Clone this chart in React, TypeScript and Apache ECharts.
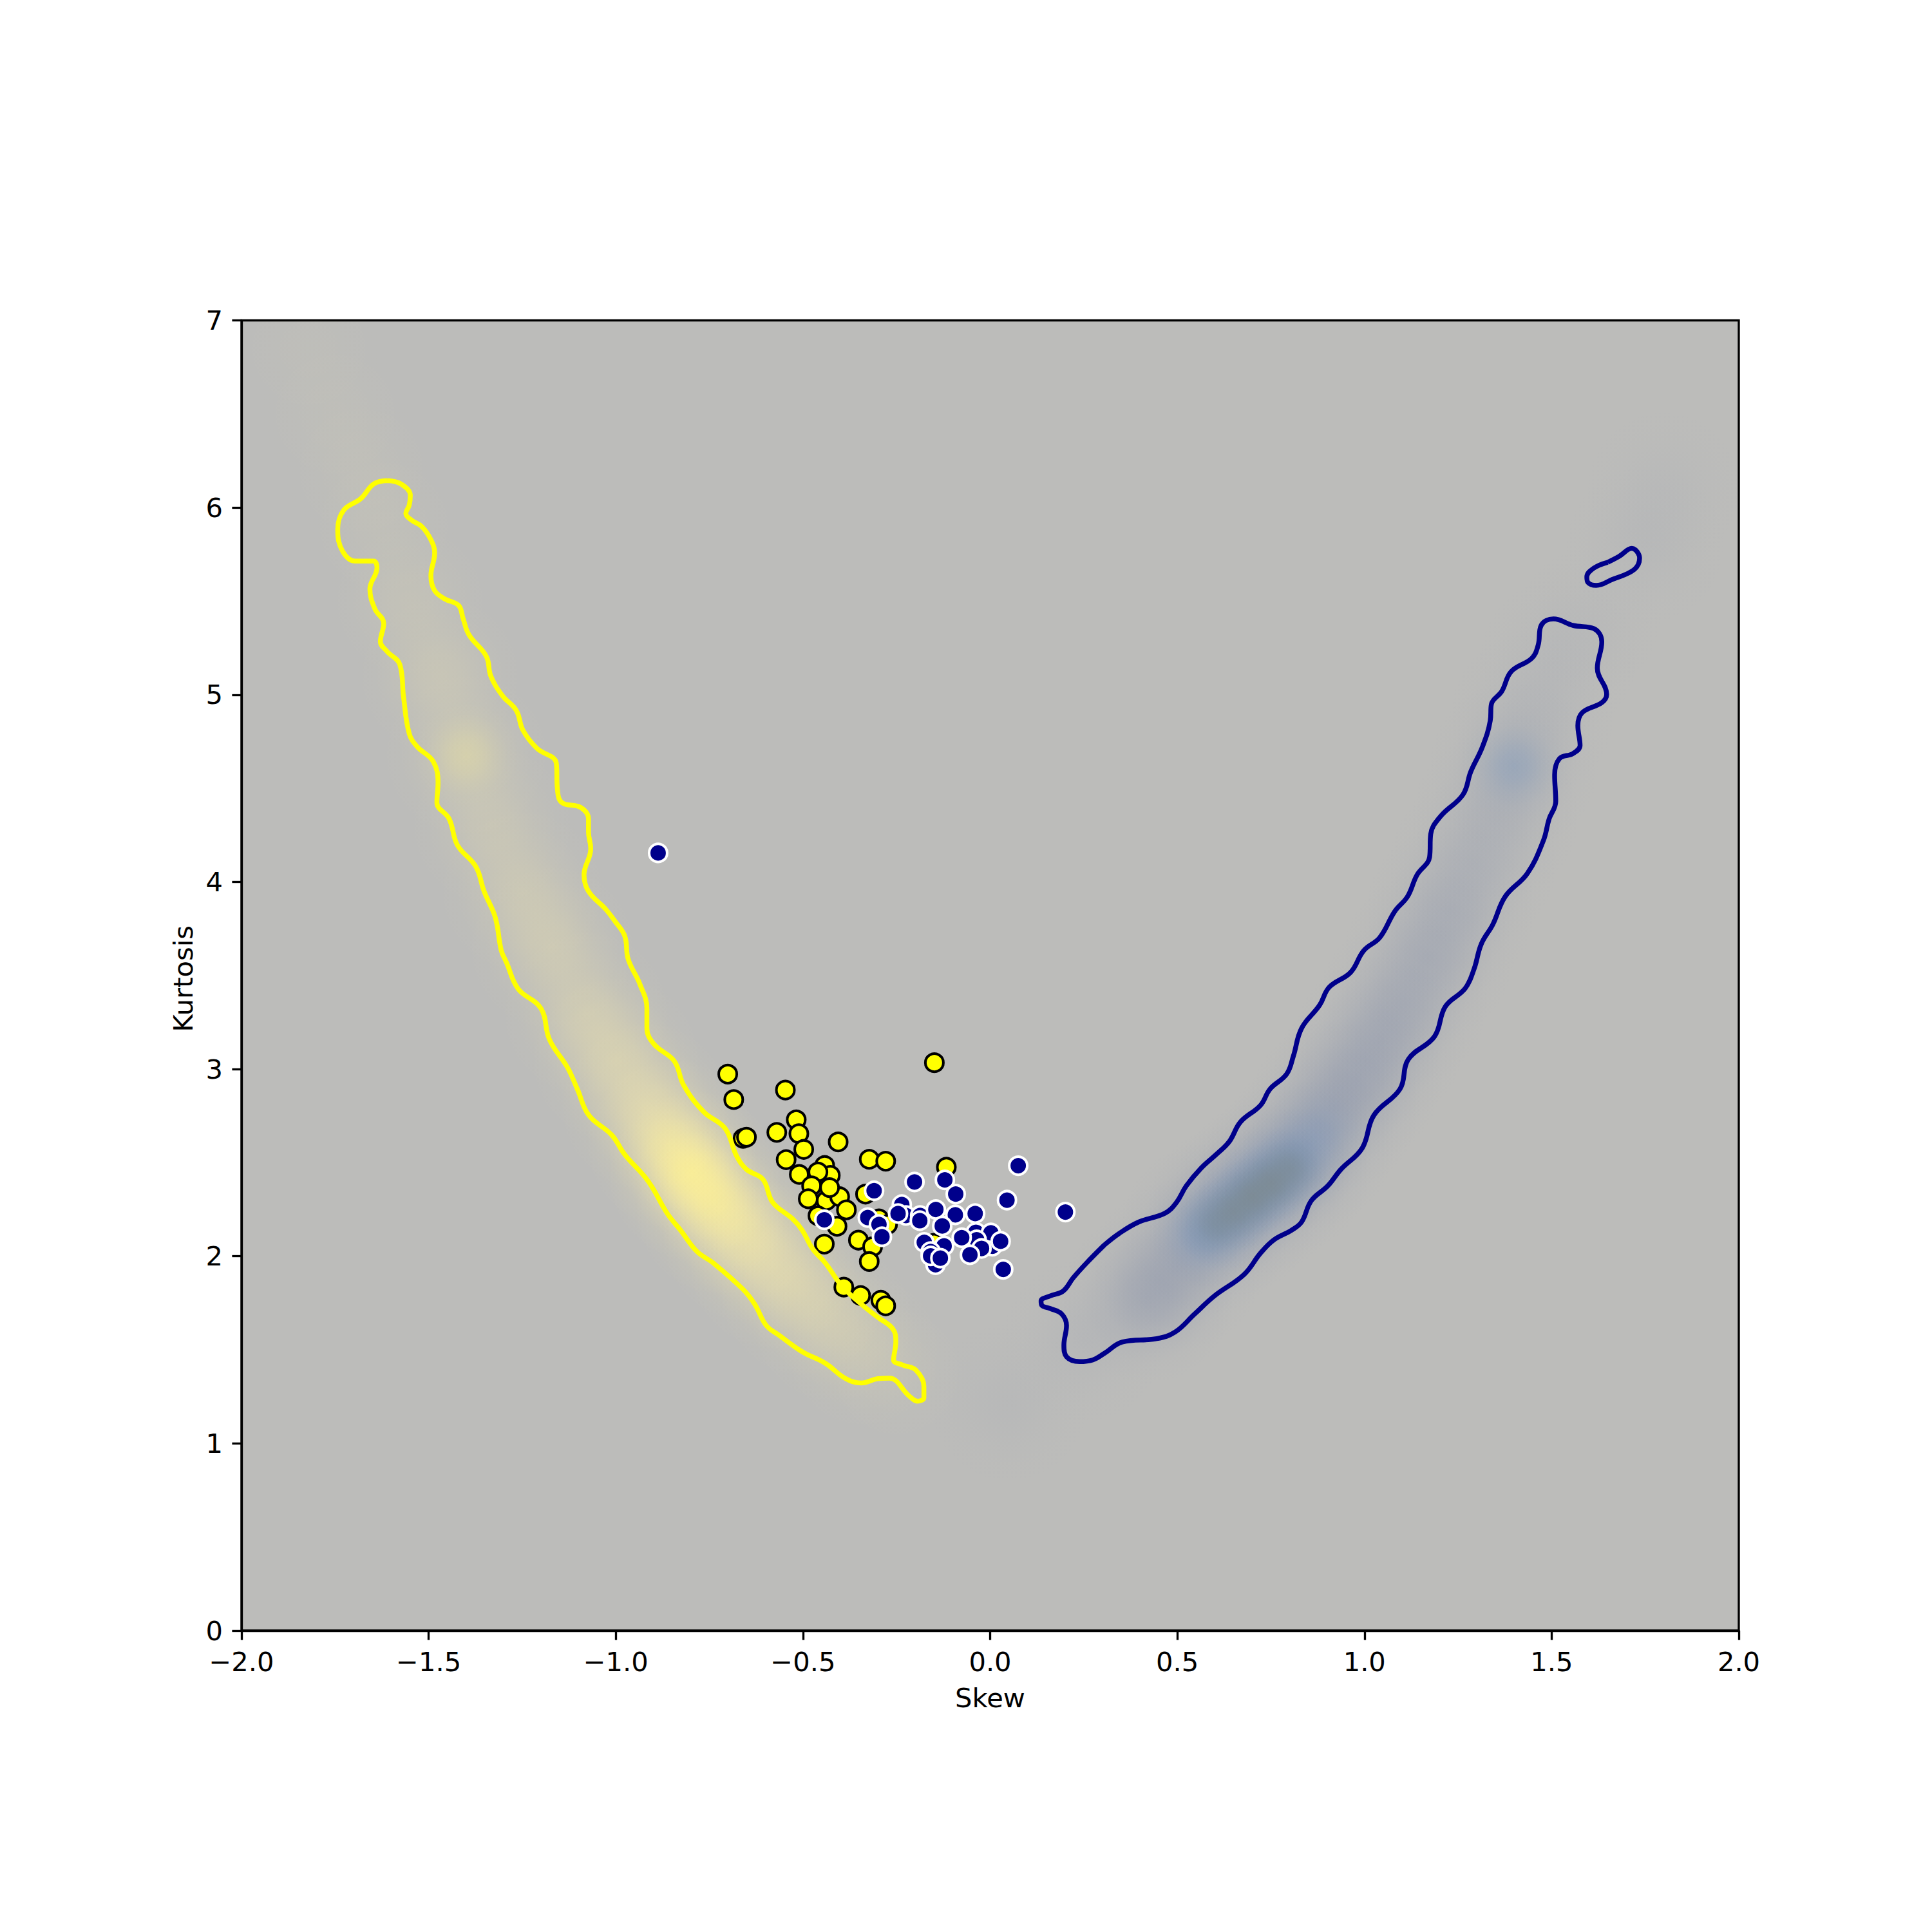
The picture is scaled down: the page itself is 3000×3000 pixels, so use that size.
import React, { useEffect, useRef } from "react";
import * as echarts from "echarts";

const xTicks = [-2, -1.5, -1, -0.5, 0, 0.5, 1, 1.5, 2];
const yTicks = [0, 1, 2, 3, 4, 5, 6, 7];

const yellowContour = [
  [-1.610,6.144],[-1.574,6.126],[-1.549,6.065],[-1.552,6.012],[-1.561,5.969],[-1.546,5.933],[-1.518,5.898],[-1.494,5.828],[-1.484,5.758],[-1.494,5.635],[-1.484,5.556],[-1.457,5.512],[-1.420,5.477],[-1.408,5.407],[-1.392,5.319],[-1.346,5.205],[-1.334,5.100],[-1.303,4.995],[-1.266,4.916],[-1.248,4.810],[-1.211,4.714],[-1.159,4.635],[-1.156,4.494],[-1.144,4.424],[-1.094,4.398],[-1.073,4.336],[-1.073,4.266],[-1.067,4.178],[-1.085,4.038],[-1.073,3.950],[-1.027,3.854],[-1.002,3.789],[-0.976,3.710],[-0.967,3.587],[-0.936,3.455],[-0.917,3.324],[-0.917,3.218],[-0.897,3.131],[-0.844,3.043],[-0.818,2.911],[-0.765,2.771],[-0.708,2.683],[-0.677,2.534],[-0.651,2.464],[-0.607,2.411],[-0.581,2.288],[-0.528,2.200],[-0.502,2.139],[-0.475,2.042],[-0.440,1.963],[-0.396,1.841],[-0.344,1.744],[-0.300,1.674],[-0.260,1.612],[-0.252,1.542],[-0.258,1.446],[-0.234,1.419],[-0.199,1.393],[-0.177,1.305],[-0.177,1.244],[-0.194,1.226],[-0.216,1.253],[-0.269,1.349],[-0.300,1.346],[-0.344,1.323],[-0.388,1.349],[-0.440,1.428],[-0.502,1.490],[-0.563,1.577],[-0.598,1.630],[-0.629,1.744],[-0.660,1.823],[-0.739,1.963],[-0.783,2.025],[-0.827,2.139],[-0.862,2.227],[-0.914,2.402],[-0.976,2.543],[-1.011,2.648],[-1.072,2.753],[-1.103,2.894],[-1.129,3.008],[-1.177,3.157],[-1.200,3.324],[-1.261,3.429],[-1.292,3.569],[-1.306,3.634],[-1.322,3.810],[-1.352,3.950],[-1.374,4.082],[-1.423,4.196],[-1.445,4.336],[-1.478,4.424],[-1.475,4.529],[-1.488,4.644],[-1.531,4.723],[-1.552,4.793],[-1.567,4.986],[-1.577,5.161],[-1.611,5.231],[-1.629,5.284],[-1.620,5.381],[-1.644,5.460],[-1.657,5.565],[-1.638,5.679],[-1.647,5.714],[-1.696,5.714],[-1.730,5.767],[-1.743,5.881],[-1.727,5.986],[-1.681,6.048],[-1.647,6.126],[-1.610,6.144],
];

const blueContour = [
  [0.305,2.060],[0.344,2.121],[0.397,2.183],[0.467,2.230],[0.498,2.288],[0.524,2.376],[0.564,2.472],[0.608,2.551],[0.639,2.613],[0.669,2.718],[0.722,2.806],[0.748,2.894],[0.792,2.973],[0.810,3.069],[0.832,3.218],[0.880,3.341],[0.906,3.438],[0.963,3.517],[0.998,3.633],[1.041,3.703],[1.081,3.843],[1.115,3.922],[1.140,4.036],[1.174,4.133],[1.177,4.256],[1.204,4.352],[1.263,4.466],[1.284,4.589],[1.315,4.721],[1.336,4.861],[1.339,4.949],[1.367,5.019],[1.392,5.124],[1.447,5.195],[1.464,5.265],[1.472,5.370],[1.505,5.405],[1.558,5.370],[1.613,5.353],[1.634,5.282],[1.622,5.142],[1.647,5.002],[1.634,4.958],[1.582,4.905],[1.570,4.835],[1.576,4.729],[1.557,4.686],[1.521,4.659],[1.508,4.572],[1.511,4.431],[1.493,4.335],[1.478,4.221],[1.435,4.045],[1.376,3.922],[1.343,3.773],[1.312,3.668],[1.293,3.536],[1.269,3.431],[1.216,3.334],[1.187,3.174],[1.117,3.052],[1.095,2.894],[1.025,2.753],[0.994,2.578],[0.937,2.464],[0.902,2.376],[0.858,2.297],[0.832,2.183],[0.805,2.139],[0.757,2.086],[0.722,2.016],[0.678,1.902],[0.599,1.788],[0.546,1.691],[0.494,1.595],[0.445,1.560],[0.353,1.542],[0.305,1.481],[0.274,1.446],[0.239,1.437],[0.204,1.463],[0.197,1.525],[0.204,1.630],[0.191,1.692],[0.160,1.721],[0.138,1.738],[0.136,1.762],[0.160,1.788],[0.195,1.814],[0.222,1.885],[0.257,1.963],[0.305,2.060],
];

const blueIsland = [
  [1.650,5.708],[1.680,5.739],[1.714,5.782],[1.735,5.730],[1.720,5.668],[1.662,5.616],[1.619,5.584],[1.597,5.600],[1.594,5.630],[1.613,5.677],[1.650,5.708],
];

const yellowPoints = [
  [-0.701,2.973],[-0.685,2.837],[-0.547,2.888],[-0.149,3.034],[-0.518,2.729],[-0.511,2.655],[-0.570,2.662],[-0.660,2.630],[-0.651,2.636],[-0.498,2.571],[-0.406,2.611],[-0.545,2.516],[-0.323,2.518],[-0.279,2.508],[-0.117,2.476],[-0.442,2.485],[-0.427,2.432],[-0.510,2.437],[-0.460,2.450],[-0.477,2.376],[-0.438,2.297],[-0.402,2.318],[-0.429,2.367],[-0.486,2.307],[-0.333,2.332],[-0.384,2.248],[-0.460,2.216],[-0.409,2.160],[-0.297,2.200],[-0.274,2.170],[-0.443,2.065],[-0.352,2.086],[-0.314,2.051],[-0.323,1.972],[-0.150,2.069],[-0.391,1.835],[-0.346,1.790],[-0.292,1.765],[-0.279,1.735],
];

const bluePoints = [
  [-0.887,4.155],[-0.310,2.350],[-0.202,2.397],[-0.121,2.408],[-0.092,2.332],[0.075,2.484],[0.045,2.300],[0.201,2.236],[-0.327,2.207],[-0.443,2.195],[-0.297,2.170],[-0.289,2.104],[-0.236,2.276],[-0.225,2.218],[-0.246,2.228],[-0.187,2.218],[-0.188,2.190],[-0.145,2.250],[-0.093,2.221],[-0.040,2.228],[-0.128,2.162],[-0.038,2.128],[0.006,2.054],[0.002,2.125],[-0.036,2.088],[-0.023,2.042],[0.028,2.080],[-0.076,2.099],[-0.054,2.008],[0.035,1.930],[-0.176,2.074],[-0.123,2.055],[-0.146,1.955],[-0.159,2.025],[-0.159,2.002],[-0.133,1.990],
];

// skew, kurtosis, relative density along each ridge
const yellowRidge = [
  [-1.82,6.85,0.06],[-1.75,6.5,0.07],[-1.68,6.2,0.08],[-1.62,5.9,0.1],[-1.55,5.5,0.18],[-1.47,5.1,0.28],[-1.40,4.68,0.32],[-1.33,4.3,0.28],[-1.25,3.95,0.32],[-1.17,3.65,0.38],[-1.08,3.3,0.42],[-1.0,3.05,0.5],[-0.92,2.8,0.62],[-0.85,2.6,0.8],[-0.79,2.43,1.0],[-0.72,2.25,0.85],[-0.65,2.1,0.65],[-0.58,1.95,0.55],[-0.5,1.8,0.42],[-0.42,1.65,0.3],[-0.34,1.5,0.2],[-0.25,1.38,0.08],
];

const yellowSpots = [
  [-1.40,4.68,0.35],[-0.86,2.6,0.35],[-0.80,2.45,0.9],[-0.74,2.30,0.7],[-0.67,2.15,0.25],
];

const blueRidge = [
  [0.25,1.55,0.14],[0.42,1.78,0.5],[0.5,1.95,0.42],[0.58,2.15,0.5],[0.65,2.25,0.5],[0.72,2.36,0.5],[0.79,2.47,0.5],[0.85,2.6,0.5],[0.92,2.8,0.45],[0.98,2.95,0.42],[1.04,3.15,0.4],[1.1,3.35,0.38],[1.17,3.6,0.38],[1.23,3.85,0.32],[1.29,4.1,0.24],[1.35,4.35,0.24],[1.4,4.62,0.3],[1.45,4.9,0.16],[1.52,5.2,0.1],[1.6,5.4,0.06],[1.75,5.8,0.1],[1.8,6.1,0.08],[0.05,1.22,0.1],
];

const blueSpots = [
  [0.57,2.12,0.6],[0.63,2.21,0.65],[0.69,2.31,0.7],[0.75,2.4,0.7],[0.81,2.5,0.65],[0.88,2.66,0.3],[1.4,4.62,0.45],
];

const blueCore = [
  [0.60,2.17,0.5],[0.65,2.24,0.7],[0.70,2.32,0.8],[0.75,2.39,0.8],[0.80,2.47,0.6],
];

const blob = (rgb: string, radius: number, scale: number) => ({
  type: "custom",
  coordinateSystem: "cartesian2d",
  clip: true,
  silent: true,
  z: 1,
  encode: { x: 0, y: 1 },
  renderItem: (_: any, api: any) => {
    const c = api.coord([api.value(0), api.value(1)]);
    return {
      type: "circle",
      shape: { cx: c[0], cy: c[1], r: radius },
      style: {
        opacity: Math.min(1, api.value(2) * scale),
        fill: new echarts.graphic.RadialGradient(0.5, 0.5, 0.5, [
          { offset: 0, color: `rgba(${rgb},1)` },
          { offset: 0.25, color: `rgba(${rgb},0.78)` },
          { offset: 0.5, color: `rgba(${rgb},0.37)` },
          { offset: 0.75, color: `rgba(${rgb},0.1)` },
          { offset: 1, color: `rgba(${rgb},0)` },
        ]),
      },
    };
  },
});

const contour = (data: number[][], color: string) => ({
  type: "line",
  data,
  smooth: 0.4,
  showSymbol: false,
  silent: true,
  z: 5,
  lineStyle: { color, width: 7.5, join: "round" },
});

const scatter = (data: number[][], fill: string, edge: string, z: number) => ({
  type: "scatter",
  data,
  symbolSize: 28,
  silent: true,
  z,
  itemStyle: { color: fill, borderColor: edge, borderWidth: 4, opacity: 1 },
});

const font = { fontFamily: "DejaVu Sans", fontSize: 41.67, color: "#000" };
const axisBase = {
  type: "value",
  splitLine: { show: false },
  axisLine: { show: true, onZero: false, lineStyle: { color: "#000", width: 3.33 } },
  axisTick: { show: true, length: 14.6, lineStyle: { color: "#000", width: 3.33 } },
  nameLocation: "middle",
};

export default function App() {
  const ref = useRef<HTMLDivElement>(null);
  useEffect(() => {
    const chart = echarts.init(ref.current!, undefined, { renderer: "svg" });
    chart.setOption({
      animation: false,
      backgroundColor: "#fff",
      grid: {
        show: true,
        left: 375,
        top: 497.5,
        width: 2325,
        height: 2034.5,
        backgroundColor: "#bcbcba",
        borderColor: "#000",
        borderWidth: 3.33,
        containLabel: false,
      },
      xAxis: {
        ...axisBase,
        min: xTicks[0],
        max: xTicks[xTicks.length - 1],
        interval: 0.5,
        name: "Skew",
        nameGap: 83,
        nameTextStyle: font,
        axisLabel: {
          ...font,
          margin: 27,
          formatter: (v: number) => v.toFixed(1).replace("-", "\u2212"),
        },
      },
      yAxis: {
        ...axisBase,
        min: yTicks[0],
        max: yTicks[yTicks.length - 1],
        interval: 1,
        name: "Kurtosis",
        nameGap: 70,
        nameTextStyle: { ...font, padding: [0, 10, 0, 0] },
        axisLabel: { ...font, margin: 29 },
      },
      series: [
        { ...blob("255,240,165", 135, 0.62), data: yellowRidge },
        { ...blob("255,242,140", 85, 0.62), data: yellowSpots },
        { ...blob("120,133,165", 135, 0.62), data: blueRidge },
        { ...blob("105,145,195", 85, 0.6), data: blueSpots },
        { ...blob("125,138,145", 62, 1), data: blueCore },
        scatter(yellowPoints, "#ffff00", "#000", 2),
        scatter(bluePoints, "#00008b", "#fff", 3),
        contour(yellowContour, "#ffff00"),
        contour(blueContour, "#00008b"),
        contour(blueIsland, "#00008b"),
      ],
    });
    return () => chart.dispose();
  }, []);
  return <div ref={ref} style={{ position: "absolute", left: 0, top: 0, width: 3000, height: 3000 }} />;
}
